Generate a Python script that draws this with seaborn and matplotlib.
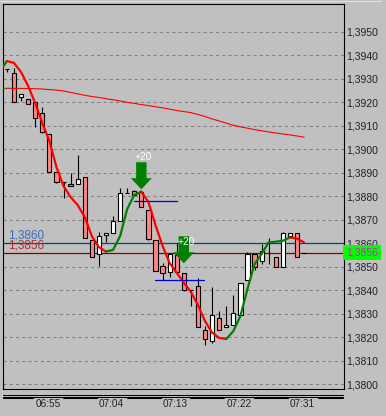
import numpy as np
import matplotlib
matplotlib.use("Agg")
import matplotlib.pyplot as plt
import matplotlib.transforms as mtransforms
from matplotlib.lines import Line2D
import seaborn as sns

# ---------------- data ----------------
times = ["06:49", "06:50", "06:51", "06:52", "06:53", "06:54", "06:55", "06:56",
         "06:57", "06:58", "06:59", "07:00", "07:01", "07:02", "07:03", "07:04",
         "07:05", "07:06", "07:07", "07:08", "07:09", "07:10", "07:11", "07:12",
         "07:13", "07:14", "07:15", "07:16", "07:17", "07:18", "07:19", "07:20",
         "07:21", "07:22", "07:23", "07:24", "07:25", "07:26", "07:27", "07:28",
         "07:29", "07:30", "07:31"]
opens = [1.39341, 1.39323, 1.39221, 1.39213, 1.39202, 1.39153, 1.39063, 1.38901,
         1.38861, 1.38850, 1.38850, 1.38880, 1.38612, 1.38554, 1.38635, 1.38642,
         1.38694, 1.38812, 1.38822, 1.38819, 1.38741, 1.38613, 1.38503, 1.38478,
         1.38549, 1.38472, 1.38400, 1.38419, 1.38230, 1.38182, 1.38280, 1.38242,
         1.38250, 1.38293, 1.38442, 1.38552, 1.38524, 1.38606, 1.38540, 1.38497,
         1.38630, 1.38642, 1.38560]
highs = [1.39341, 1.39344, 1.39234, 1.39213, 1.39202, 1.39181, 1.39063, 1.38901,
         1.38861, 1.38900, 1.38974, 1.38880, 1.38612, 1.38649, 1.38643, 1.38715,
         1.38833, 1.38833, 1.38825, 1.38819, 1.38741, 1.38613, 1.38514, 1.38552,
         1.38602, 1.38472, 1.38400, 1.38450, 1.38247, 1.38412, 1.38311, 1.38332,
         1.38379, 1.38430, 1.38561, 1.38552, 1.38595, 1.38620, 1.38540, 1.38649,
         1.38642, 1.38642, 1.38560]
lows = [1.39327, 1.39202, 1.39206, 1.39192, 1.39096, 1.39067, 1.38901, 1.38855,
        1.38794, 1.38842, 1.38850, 1.38620, 1.38540, 1.38503, 1.38606, 1.38642,
        1.38694, 1.38812, 1.38805, 1.38752, 1.38613, 1.38481, 1.38443, 1.38454,
        1.38472, 1.38396, 1.38334, 1.38242, 1.38166, 1.38173, 1.38230, 1.38242,
        1.38250, 1.38293, 1.38442, 1.38486, 1.38511, 1.38510, 1.38497, 1.38497,
        1.38630, 1.38540, 1.38560]
closes = [1.39341, 1.39202, 1.39234, 1.39192, 1.39131, 1.39072, 1.38901, 1.38861,
          1.38861, 1.38842, 1.38873, 1.38620, 1.38540, 1.38632, 1.38643, 1.38694,
          1.38812, 1.38812, 1.38805, 1.38752, 1.38617, 1.38481, 1.38472, 1.38552,
          1.38478, 1.38400, 1.38400, 1.38242, 1.38190, 1.38293, 1.38230, 1.38250,
          1.38301, 1.38430, 1.38552, 1.38500, 1.38568, 1.38606, 1.38497, 1.38642,
          1.38642, 1.38540, 1.38560]

ma_times = ["06:48"] + times
ma_fast = [1.39331, 1.39375, 1.39367, 1.39328, 1.39269, 1.39196, 1.39111, 1.39035,
           1.38924, 1.38843, 1.38796, 1.38762, 1.38711, 1.38630, 1.38583, 1.38564,
           1.38571, 1.38630, 1.38745, 1.38805, 1.38819, 1.38775, 1.38677, 1.38588,
           1.38515, 1.38473, 1.38432, 1.38392, 1.38337, 1.38268, 1.38219, 1.38196,
           1.38192, 1.38225, 1.38290, 1.38405, 1.38511, 1.38554, 1.38603, 1.38606,
           1.38610, 1.38624, 1.38619, 1.38603]
ma_slow = [1.392578, 1.392590, 1.392588, 1.392586, 1.392582, 1.392573, 1.392561,
           1.392535, 1.392514, 1.392476, 1.392416, 1.392352, 1.392292, 1.392241,
           1.392199, 1.392148, 1.392101, 1.392050, 1.391994, 1.391948, 1.391896,
           1.391854, 1.391807, 1.391760, 1.391700, 1.391645, 1.391599, 1.391556,
           1.391475, 1.391390, 1.391288, 1.391198, 1.391109, 1.391015, 1.390951,
           1.390892, 1.390832, 1.390781, 1.390734, 1.390687, 1.390645, 1.390607,
           1.390560, 1.390509]

price_ticks = [1.3800, 1.3810, 1.3820, 1.3830, 1.3840, 1.3850, 1.3860, 1.3870,
               1.3880, 1.3890, 1.3900, 1.3910, 1.3920, 1.3930, 1.3940, 1.3950]
time_ticks = ["06:55", "07:04", "07:13", "07:22", "07:31"]

ask_level = 1.3860
bid_level = 1.3856

signal_times = ["07:08", "07:14"]
signal_prices = [1.38829, 1.38514]
signal_texts = ["+20", "+20"]
signal_text_prices = [1.38968, 1.38603]

seg_levels = [1.38778, 1.38442]
seg_starts = [17.9, 20.9]
seg_ends = [24.0, 27.9]

# ---------------- style ----------------
sns.set_style("white")
plt.rcParams['font.family'] = ['Liberation Sans', 'DejaVu Sans']

BG = '#c0c0c0'
RED = '#ff0000'
GREEN = '#008000'
TXT = '#202030'

W, H = 386, 416
fig = plt.figure(figsize=(W / 100, H / 100), dpi=100, facecolor=BG)
ax_l, ax_r, ax_t, ax_b = 3.3, 343.7, 4.0, 389.3
ax = fig.add_axes([ax_l / W, (H - ax_b) / H, (ax_r - ax_l) / W, (ax_b - ax_t) / H])
ax.set_facecolor(BG)
for s in ax.spines.values():
    s.set_color('black')
    s.set_linewidth(0.8)

idx = np.arange(len(times))
o = np.array(opens); h = np.array(highs); l = np.array(lows); c = np.array(closes)
ma_idx = np.arange(len(ma_times)) - 1

# grid
ax.set_yticks(price_ticks)
ax.set_yticklabels([f"{v:.4f}".replace('.', ',') for v in price_ticks])
for v in price_ticks:
    ax.axhline(v, color='#808080', lw=0.75, linestyle=(0, (3, 3)), zorder=1)

# price lines
ax.axhline(ask_level, color='#00468c', lw=0.9, zorder=2)
ax.axhline(bid_level, color='#8c0000', lw=0.9, zorder=2)

# candles
fills = np.where(c > o, 'white', '#ff8585')
ax.vlines(idx, l, h, colors='black', lw=0.8, zorder=3)
ax.bar(idx, np.abs(c - o), bottom=np.minimum(o, c), width=0.6, color=fills,
       edgecolor='black', linewidth=0.8, zorder=3.1)


def draw_trend(xs, vals, lw, z):
    xs = np.asarray(xs, dtype=float)
    vals = np.asarray(vals, dtype=float)
    up = np.diff(vals) > 0
    start = 0
    for k in range(1, len(up) + 1):
        if k == len(up) or up[k] != up[start]:
            seg = slice(start, k + 1)
            sns.lineplot(x=xs[seg], y=vals[seg], color=GREEN if up[start] else RED,
                         lw=lw, ax=ax, sort=False, estimator=None, zorder=z)
            start = k


draw_trend(ma_idx, ma_slow, 0.8, 4)
draw_trend(ma_idx, ma_fast, 1.6, 4.2)

# short blue levels
for lv, s0, s1 in zip(seg_levels, seg_starts, seg_ends):
    ax.plot([s0, s1], [lv, lv], color='#0000e0', lw=0.9, zorder=4.5)

# signal arrows
for t, p, txt, tp in zip(signal_times, signal_prices, signal_texts, signal_text_prices):
    xi = times.index(t)
    ax.annotate('', xy=(xi, p), xytext=(0, 19.5), textcoords='offset points',
                arrowprops=dict(facecolor=GREEN, edgecolor=GREEN, width=7.5,
                                headwidth=15, headlength=8, shrink=0, linewidth=0),
                zorder=5)
    ax.annotate(txt, xy=(xi, tp), xytext=(1.5, 0), textcoords='offset points',
                ha='center', va='center', color='white', fontsize=7.3, zorder=6)

# axes limits
ax.set_xlim(-0.51, 47.6)
ax.set_ylim(1.379777, 1.396179)

# ticks
ax.yaxis.tick_right()
ax.tick_params(axis='y', length=0, pad=1.6, labelsize=7.5, labelcolor=TXT)
tick_idx = np.array([times.index(t) for t in time_ticks])
ax.set_xticks(tick_idx - 0.2)
ax.set_xticklabels(time_ticks)
ax.tick_params(axis='x', length=0, pad=7.3, labelsize=7.2, labelcolor=TXT)
ax.set_xlabel('')
ax.set_ylabel('')

# level labels on left
tr_ad = mtransforms.blended_transform_factory(ax.transAxes, ax.transData)
ax.annotate(f"{ask_level:.4f}".replace('.', ','), xy=(0, ask_level), xycoords=tr_ad,
            xytext=(3.6, 3.0), textcoords='offset points', fontsize=8.5,
            color='#3b6db5', va='baseline', ha='left', zorder=6)
ax.annotate(f"{bid_level:.4f}".replace('.', ','), xy=(0, bid_level), xycoords=tr_ad,
            xytext=(3.6, 3.0), textcoords='offset points', fontsize=8.5,
            color='#b03030', va='baseline', ha='left', zorder=6)

# bid highlight on the price scale
ax.annotate(f"{bid_level:.4f}".replace('.', ','), xy=(1, bid_level), xycoords=tr_ad,
            xytext=(1.6, 0), textcoords='offset points', fontsize=7.5,
            color='#ff00ff', va='center', ha='left', annotation_clip=False,
            bbox=dict(boxstyle='square,pad=0.28', fc='#00ff00', ec='none'), zorder=10)

# time scale decorations
ax.plot([0, 0.997], [-0.0140, -0.0140], transform=ax.transAxes, clip_on=False,
        color='black', lw=0.75)
ax.plot([0, 0.997], [-0.0192, -0.0192], transform=ax.transAxes, clip_on=False,
        color='black', lw=0.75)
tr_da = mtransforms.blended_transform_factory(ax.transData, ax.transAxes)
edges = [-0.51] + [v for ti in tick_idx for v in (ti - 2.28, ti + 1.93)] + [47.5]
for a, b in zip(edges[0::2], edges[1::2]):
    ax.plot([a, b], [-0.0236, -0.0236], transform=tr_da, clip_on=False,
            color='black', lw=0.75)

fig.add_artist(Line2D([0, 381 / W], [1 - 0.8 / H] * 2, transform=fig.transFigure,
                      color='#e2e2ea', lw=0.8))

fig.savefig('out.png', dpi=100, facecolor=BG)
